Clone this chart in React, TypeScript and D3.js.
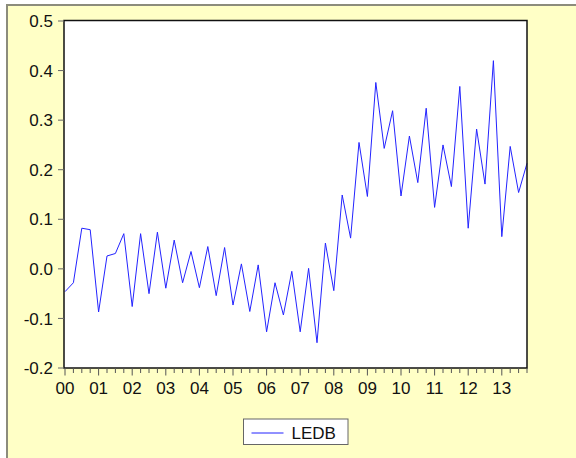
import React from "react";
import * as d3 from "d3";

const seriesName = "LEDB";
const startYear = 2000;
const values: number[] = [
  -0.046, -0.028, 0.082, 0.079, -0.087, 0.026, 0.031, 0.071,
  -0.076, 0.071, -0.050, 0.074, -0.039, 0.058, -0.028, 0.035,
  -0.038, 0.045, -0.054, 0.043, -0.073, 0.010, -0.086, 0.008,
  -0.127, -0.028, -0.093, -0.005, -0.127, 0.001, -0.149, 0.052,
  -0.044, 0.149, 0.062, 0.255, 0.146, 0.376, 0.243, 0.319,
  0.147, 0.268, 0.174, 0.324, 0.124, 0.250, 0.166, 0.368,
  0.082, 0.282, 0.171, 0.420, 0.065, 0.247, 0.154, 0.213,
];
const yTicks = [0.5, 0.4, 0.3, 0.2, 0.1, 0.0, -0.1, -0.2];
const yearLabels = ["00", "01", "02", "03", "04", "05", "06", "07", "08", "09", "10", "11", "12", "13"];

export default function App() {
  const W = 576, H = 458;
  const left = 64, right = 527, top = 20.5, bottom = 368;
  const x = d3.scaleLinear().domain([0, values.length - 1]).range([left + 1, right]);
  const y = d3.scaleLinear().domain([-0.2, 0.5]).range([bottom, top + 0.5]);
  const line = d3.line<number>().x((_, i) => x(i)).y((d) => y(d));
  const font = "'Liberation Sans', Arial, sans-serif";
  const quarterTicks = d3.range(0, values.length);

  return (
    <svg width={W} height={H} style={{ position: "absolute", left: 0, top: 0, background: "#ffffff" }}>
      <rect x={6} y={4} width={W - 6} height={H - 4} fill="#8c8c7c" />
      <rect x={8} y={6} width={W - 8} height={H - 6} fill="#ffffc6" />
      <rect x={left} y={top} width={right - left} height={bottom - top} fill="#ffffff" />
      <path d={line(values) || ""} fill="none" stroke="#2323ff" strokeWidth={1} />
      <rect x={left} y={top} width={right - left} height={bottom - top} fill="none" stroke="#111" strokeWidth={1.5} />
      {yTicks.map((t) => (
        <g key={t}>
          <line x1={left - 6} x2={left} y1={y(t)} y2={y(t)} stroke="#666" strokeWidth={1} />
          <text x={53} y={y(t)} dy="0.36em" textAnchor="end" fontFamily={font} fontSize={17} fill="#111">
            {t.toFixed(1)}
          </text>
        </g>
      ))}
      {quarterTicks.map((q) => (
        <line key={q} x1={x(q)} x2={x(q)} y1={bottom} y2={bottom + (q % 4 === 0 ? 7.5 : 5)} stroke="#555" strokeWidth={1} />
      ))}
      {yearLabels.map((lab, k) => (
        <text key={lab} x={x(k * 4)} y={394} textAnchor="middle" fontFamily={font} fontSize={17} fill="#111">
          {lab}
        </text>
      ))}
      <rect x={243.5} y={419} width={104.5} height={25.5} fill="#ffffff" stroke="#666" strokeWidth={1} />
      <line x1={251.5} x2={283.5} y1={433} y2={433} stroke="#2323ff" strokeWidth={1} />
      <text x={291.5} y={439} fontFamily={font} fontSize={17} fill="#111">
        {seriesName}
      </text>
    </svg>
  );
}
